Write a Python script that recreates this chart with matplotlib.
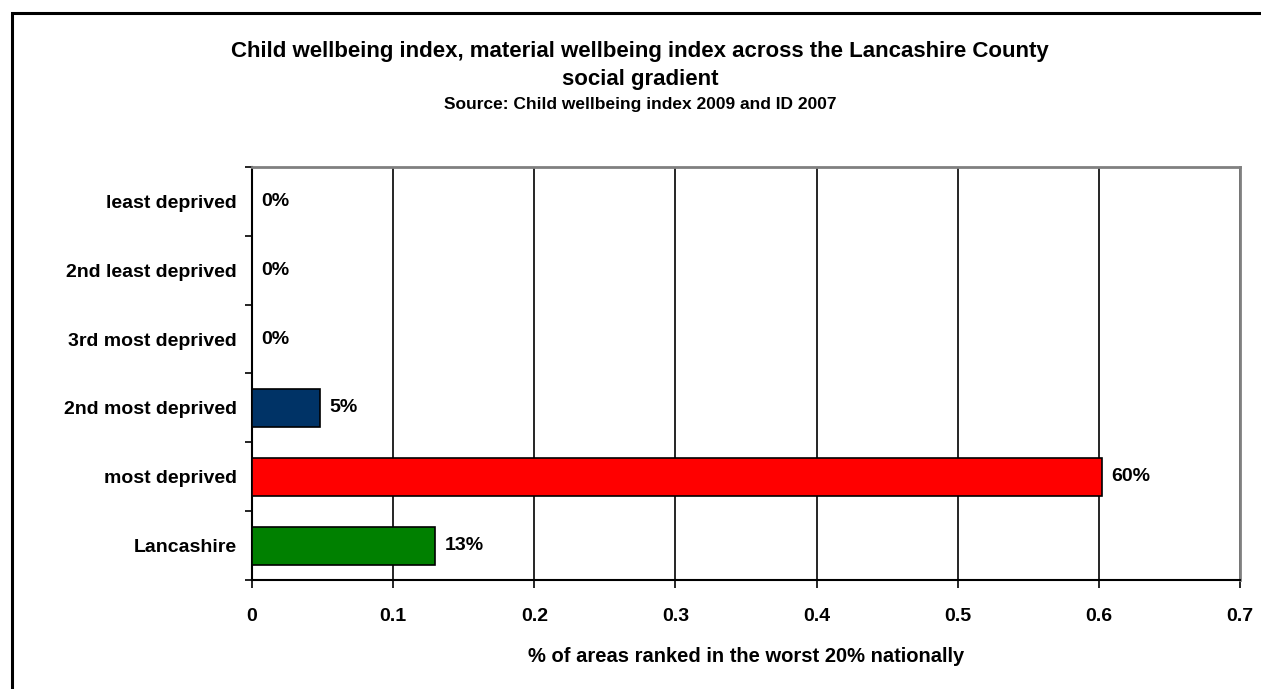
import matplotlib.pyplot as plt
from matplotlib.patches import Rectangle

# Share of areas in the worst 20% nationally, by deprivation quintile
categories = ["Lancashire", "most deprived", "2nd most deprived",
              "3rd most deprived", "2nd least deprived", "least deprived"]
values = [0.13, 0.602, 0.048, 0.0, 0.0, 0.0]
labels = ["13%", "60%", "5%", "0%", "0%", "0%"]
colors = ["#008000", "#ff0000", "#003366", "#003366", "#003366", "#003366"]
xticks = [0, 0.1, 0.2, 0.3, 0.4, 0.5, 0.6, 0.7]

plt.rcParams["font.family"] = ["Liberation Sans", "DejaVu Sans"]
plt.rcParams["font.weight"] = "bold"

fig = plt.figure(figsize=(12.61, 6.89), dpi=100)

# chart frame (runs off the right and bottom edges)
fig.patches.append(Rectangle((12 / 1261, -0.05), 1.2, 1 - 13 / 689 + 0.05,
                             transform=fig.transFigure, fill=False,
                             edgecolor="black", linewidth=2.2))

ax = fig.add_axes([252 / 1261, 1 - 580 / 689, (1240 - 252) / 1261, (580 - 167) / 689])
y = range(len(categories))
ax.barh(y, values, height=0.55, color=colors, edgecolor="black",
        linewidth=1.2, zorder=3)
for yi, v, lab in zip(y, values, labels):
    ax.text(v + 0.0065, yi, lab, va="center", ha="left", fontsize=14,
            fontweight="bold")

ax.set_xlim(0, 0.7)
ax.set_ylim(-0.5, len(categories) - 0.5)
ax.set_xticks(xticks)
ax.set_xticklabels(["0" if t == 0 else f"{t:g}" for t in xticks])
ax.set_yticks(list(y))
ax.set_yticklabels(categories)
ax.set_yticks([i - 0.5 for i in range(len(categories) + 1)], minor=True)
ax.tick_params(axis="y", which="major", length=0, pad=11, labelsize=14)
ax.tick_params(axis="y", which="minor", length=5, width=1.2, direction="out")
ax.tick_params(axis="x", length=6, width=1.2, direction="out", pad=14,
               labelsize=14)
ax.grid(axis="x", color="black", linewidth=1.2, zorder=0)
for side in ("left", "bottom"):
    ax.spines[side].set_linewidth(1.5)
for side in ("top", "right"):
    ax.spines[side].set_color("#808080")
    ax.spines[side].set_linewidth(2)

ax.set_xlabel("% of areas ranked in the worst 20% nationally", fontsize=14.5,
              fontweight="bold", labelpad=16)

fig.text(0.5077, 1 - 52 / 689,
         "Child wellbeing index, material wellbeing index across the Lancashire County",
         ha="center", va="center", fontsize=16, fontweight="bold")
fig.text(0.5077, 1 - 79 / 689, "social gradient", ha="center", va="center",
         fontsize=16, fontweight="bold")
fig.text(0.5077, 1 - 105 / 689, "Source: Child wellbeing index 2009 and ID 2007",
         ha="center", va="center", fontsize=12.5, fontweight="bold")

fig.savefig("out.png", dpi=100)
